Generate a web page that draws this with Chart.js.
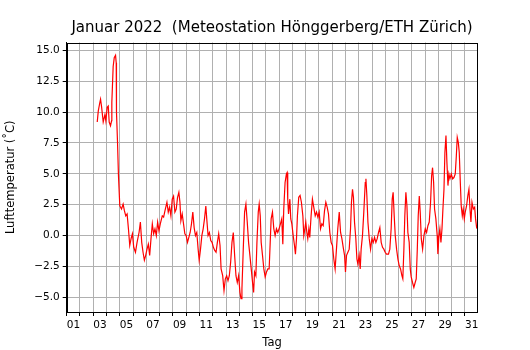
<!DOCTYPE html>
<html>
<head>
<meta charset="utf-8">
<script src="https://cdn.jsdelivr.net/npm/chart.js@4"></script>
<style>
html,body{margin:0;padding:0;background:#fff;}
#wrap{width:530px;height:350px;}
</style>
</head>
<body>
<div id="wrap"><canvas id="c" width="530" height="350"></canvas></div>
<script>
// Day of month (fractional, 1.0 = 1 Jan 00:00)
const tag = [
3.30,3.38,3.50,3.55,3.63,3.75,3.88,3.95,4.05,4.13,4.20,4.30,4.38,4.40,4.50,4.58,4.68,4.73,4.75,4.83,4.90,
5.00,5.13,5.25,5.35,5.45,5.55,5.65,5.75,5.85,5.95,6.05,6.18,6.30,6.45,6.55,6.65,6.75,6.85,6.95,
7.05,7.15,7.25,7.35,7.45,7.55,7.65,7.75,7.85,7.95,8.05,8.20,8.30,8.40,8.55,8.65,8.75,8.85,8.95,
9.05,9.15,9.25,9.35,9.45,9.53,9.60,9.70,9.80,9.90,10.00,10.10,10.20,10.30,10.40,10.50,10.60,10.70,10.80,10.90,10.98,
11.08,11.18,11.28,11.38,11.48,11.55,11.65,11.75,11.85,11.95,12.05,12.15,12.25,12.35,12.45,12.55,12.63,12.75,12.85,12.95,
13.05,13.15,13.25,13.35,13.45,13.55,13.65,13.75,13.85,13.95,14.05,14.13,14.20,14.30,14.40,14.50,14.60,14.70,14.80,14.90,
15.00,15.08,15.15,15.25,15.33,15.43,15.50,15.58,15.65,15.75,15.85,15.95,16.05,16.15,16.25,16.33,16.40,16.50,16.60,16.70,16.80,16.90,
17.00,17.10,17.20,17.28,17.35,17.45,17.55,17.60,17.65,17.71,17.81,17.88,17.96,18.06,18.16,18.23,18.31,18.38,18.48,18.58,18.68,18.79,18.86,18.94,
19.01,19.09,19.16,19.24,19.31,19.41,19.51,19.61,19.72,19.82,19.92,20.02,20.12,20.22,20.32,20.42,20.52,20.62,20.72,20.82,20.92,
21.02,21.12,21.22,21.32,21.42,21.53,21.63,21.73,21.83,21.93,22.00,22.08,22.18,22.28,22.38,22.45,22.53,22.60,22.68,22.78,22.86,22.93,
23.03,23.11,23.18,23.28,23.38,23.49,23.54,23.61,23.69,23.79,23.89,23.99,24.09,24.19,24.29,24.39,24.49,24.59,24.69,24.79,24.89,24.99,
25.09,25.24,25.34,25.44,25.52,25.59,25.67,25.75,25.85,25.95,26.05,26.15,26.25,26.32,26.40,26.47,26.55,26.63,26.70,26.80,26.88,26.95,
27.05,27.15,27.25,27.33,27.41,27.48,27.56,27.63,27.71,27.81,27.91,28.01,28.11,28.21,28.31,28.41,28.49,28.56,28.64,28.71,28.81,28.91,28.96,
29.04,29.11,29.19,29.27,29.34,29.42,29.49,29.57,29.64,29.72,29.79,29.87,29.97,30.07,30.17,30.27,30.35,30.42,30.50,30.57,30.65,30.72,30.80,30.87,30.95,
31.02,31.12,31.22,31.30,31.38,31.45,31.53,31.63,31.73,31.80,31.88,31.93
];
// Lufttemperatur in °C
const temp = [
9.2,10.1,10.8,11.05,10.4,9.2,9.8,9.3,10.4,10.5,9.2,8.9,9.3,10.8,13.7,14.4,14.6,14.0,10.0,7.5,4.85,
2.4,2.15,2.55,2.0,1.6,1.75,0.55,-0.8,-0.25,0.15,-0.95,-1.35,-0.55,0.25,1.1,-0.55,-1.35,-2.0,-1.6,
-1.1,-0.7,-1.6,-0.25,0.95,0.15,0.55,0.0,1.1,0.4,0.95,1.6,1.5,2.0,2.7,1.9,2.3,1.6,2.95,
3.2,1.9,2.15,3.1,3.5,2.7,1.2,1.75,0.95,0.15,0.0,-0.55,-0.15,0.25,0.95,1.9,0.65,0.0,0.25,-1.1,-2.0,
-1.1,0.0,0.55,1.35,2.4,1.35,0.0,0.25,-0.4,-0.55,-0.95,-1.2,-1.35,-0.55,0.15,-0.8,-2.7,-3.25,-4.45,-3.5,
-3.25,-3.65,-3.25,-2.15,-0.55,0.25,-1.6,-3.25,-3.8,-3.25,-4.6,-5.1,-4.3,-1.1,1.9,2.55,1.1,-0.55,-1.6,-2.7,
-3.8,-4.6,-2.95,-3.25,-0.55,1.9,2.55,1.6,-0.55,-1.6,-2.7,-3.35,-2.95,-2.7,-2.7,-0.55,1.35,1.9,0.55,0.0,0.55,0.25,
0.55,0.95,1.35,-0.7,2.15,4.3,5.0,5.1,2.95,1.75,2.95,1.35,0.95,0.0,-0.8,-1.5,-0.25,1.6,3.1,3.25,2.7,1.6,0.0,0.55,
1.1,0.25,-0.25,0.55,-0.15,1.6,2.95,2.3,1.6,1.9,1.5,1.9,0.55,0.95,0.8,2.0,2.7,2.3,1.75,0.25,-0.55,
-0.8,-1.9,-2.7,-1.1,0.55,1.9,0.25,-0.25,-0.95,-1.6,-2.95,-1.6,-1.35,-1.1,0.55,2.7,3.75,3.1,1.1,-0.25,-1.9,-2.3,
-1.6,-2.7,-1.1,0.0,1.9,4.3,4.6,3.25,1.1,-0.25,-1.1,-0.25,-0.55,-0.15,-0.55,-0.25,0.25,0.65,-0.55,-0.95,-1.1,-1.35,
-1.5,-1.5,-1.1,0.55,2.95,3.5,1.6,0.0,-1.1,-1.9,-2.45,-2.7,-3.25,-3.5,-1.1,1.6,3.5,2.4,0.25,-0.55,-2.7,-3.35,
-3.8,-4.2,-3.8,-3.5,-1.1,1.6,3.2,1.9,-0.25,-1.1,0.0,0.55,0.25,0.8,1.1,2.7,4.85,5.5,4.3,2.15,1.35,0.0,-1.5,
0.0,0.55,-0.55,0.55,2.15,3.75,6.75,8.1,5.95,4.05,5.0,4.6,5.0,4.6,4.7,5.0,6.45,7.95,7.55,6.75,4.3,2.4,1.6,2.15,1.35,
1.9,2.4,3.25,3.75,2.15,1.1,2.7,2.15,2.3,1.35,0.65,0.55
];
const xTickDays = [1,2,3,4,5,6,7,8,9,10,11,12,13,14,15,16,17,18,19,20,21,22,23,24,25,26,27,28,29,30,31];
const yTickValues = [-5,-2.5,0,2.5,5,7.5,10,12.5,15];
const xMin = 1, xMax = 31.93, yMin = -6.19, yMax = 15.64;

const points = tag.map((t, i) => ({x: t, y: temp[i]}));
const FONT = "'DejaVu Sans', sans-serif";

const frame = {
  id: 'frame',
  afterDatasetsDraw(chart) {
    const {ctx, chartArea: a} = chart;
    ctx.save();
    ctx.strokeStyle = '#000';
    ctx.lineWidth = 1;
    ctx.strokeRect(Math.round(a.left) + 0.5, Math.round(a.top) + 0.5,
                   Math.round(a.right - a.left) - 1, Math.round(a.bottom - a.top) - 1);
    ctx.restore();
  }
};

new Chart(document.getElementById('c'), {
  type: 'line',
  data: {
    datasets: [{
      data: points,
      borderColor: '#ff0000',
      borderWidth: 1.2,
      pointRadius: 0,
      tension: 0,
      fill: false
    }]
  },
  options: {
    responsive: false,
    animation: false,
    events: [],
    layout: {padding: {left: 0, right: 52.7, top: 0, bottom: 0}},
    plugins: {
      legend: {display: false},
      tooltip: {enabled: false},
      title: {
        display: true,
        fullSize: false,
        text: 'Januar 2022  (Meteostation Hönggerberg/ETH Zürich)',
        color: '#000',
        font: {family: FONT, size: 15, weight: 'normal'},
        padding: {top: 19, bottom: 5.5}
      }
    },
    scales: {
      x: {
        type: 'linear',
        min: xMin, max: xMax,
        afterBuildTicks(s) { s.ticks = xTickDays.map(v => ({value: v})); },
        afterFit(s) { s.height = 38; },
        ticks: {
          autoSkip: false,
          maxRotation: 0,
          align: 'start',
          padding: 3,
          color: '#000',
          font: {family: FONT, size: 10.5},
          callback: v => (v % 2 === 1 ? String(v).padStart(2, '0') : '')
        },
        grid: {color: '#b0b0b0', lineWidth: 1, tickColor: '#000', tickLength: 4, drawTicks: true},
        border: {color: '#000', width: 1},
        title: {display: true, text: 'Tag', color: '#000', font: {family: FONT, size: 11.5}, padding: {top: 0, bottom: 0}}
      },
      y: {
        type: 'linear',
        min: yMin, max: yMax,
        afterBuildTicks(s) { s.ticks = yTickValues.map(v => ({value: v})); },
        afterFit(s) { s.width = 66.7; },
        ticks: {
          autoSkip: false,
          padding: 3,
          color: '#000',
          font: {family: FONT, size: 10.5},
          callback: v => v.toFixed(1).replace('-', '\u2212')
        },
        grid: {color: '#b0b0b0', lineWidth: 1, tickColor: '#000', tickLength: 4, drawTicks: true},
        border: {color: '#000', width: 1},
        title: {display: true, text: 'Lufttemperatur (˚C)', color: '#000', font: {family: FONT, size: 11.5}, padding: {top: 4, bottom: 0}}
      }
    }
  },
  plugins: [frame]
});
</script>
</body>
</html>
